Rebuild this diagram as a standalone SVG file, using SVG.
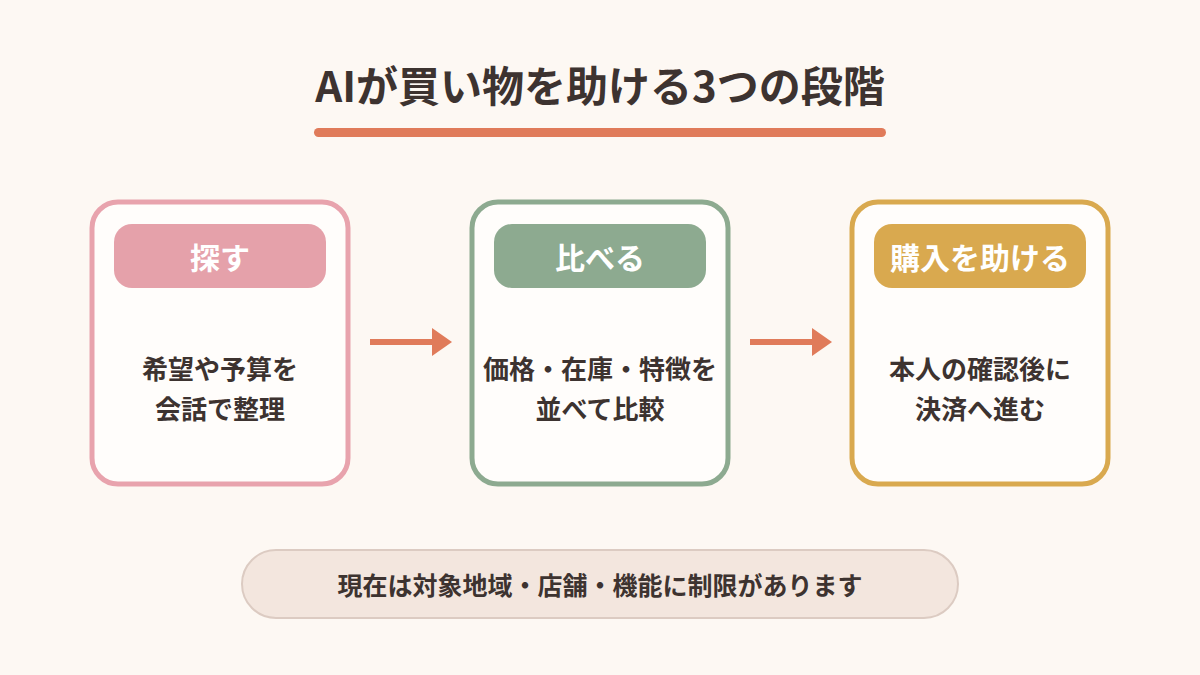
<svg xmlns="http://www.w3.org/2000/svg" width="1200" height="675" viewBox="0 0 1200 675">
<style>
text{font-family:"Noto Sans CJK JP","Noto Sans",sans-serif;font-weight:700;text-anchor:middle;dominant-baseline:central}
.card{fill:#fffdfb;stroke-width:5}
.h{fill:#fff;font-size:30px}
.b{fill:#3d3330;font-size:26px}
.ar{stroke:#e07b5a;stroke-width:6;fill:none}
</style>
<rect width="1200" height="675" fill="#fdf8f3"/>
<g id="title">
<text x="600" y="83" font-size="42" fill="#3d3330">AIが買い物を助ける3つの段階</text>
<rect x="314" y="128" width="572" height="9" rx="4.5" fill="#e07b5a"/>
</g>
<g id="n1">
<rect class="card" x="92" y="202" width="256" height="282" rx="26" stroke="#e8a3ad"/>
<rect x="114" y="224" width="212" height="64" rx="18" fill="#e5a1aa"/>
<text class="h" x="220" y="256">探す</text>
<text class="b" x="220" y="367">希望や予算を</text>
<text class="b" x="220" y="407">会話で整理</text>
</g>
<g id="n2">
<rect class="card" x="472" y="202" width="256" height="282" rx="26" stroke="#8daa90"/>
<rect x="494" y="224" width="212" height="64" rx="18" fill="#8daa90"/>
<text class="h" x="600" y="256">比べる</text>
<text class="b" x="600" y="367">価格・在庫・特徴を</text>
<text class="b" x="600" y="407">並べて比較</text>
</g>
<g id="n3">
<rect class="card" x="852" y="202" width="256" height="282" rx="26" stroke="#d9a94f"/>
<rect x="874" y="224" width="212" height="64" rx="18" fill="#d9a94f"/>
<text class="h" x="980" y="256">購入を助ける</text>
<text class="b" x="980" y="367">本人の確認後に</text>
<text class="b" x="980" y="407">決済へ進む</text>
</g>
<g id="connectors">
<path d="M370,342H434" class="ar"/><path d="M432,328L452,342L432,356z" fill="#e07b5a"/>
<path d="M750,342H814" class="ar"/><path d="M812,328L832,342L812,356z" fill="#e07b5a"/>
</g>
<g id="note">
<rect x="242" y="550" width="716" height="68" rx="34" fill="#f3e6de" stroke="#dccbc2" stroke-width="2"/>
<text x="600" y="584" font-size="25" fill="#3d3330">現在は対象地域・店舗・機能に制限があります</text>
</g>
</svg>
